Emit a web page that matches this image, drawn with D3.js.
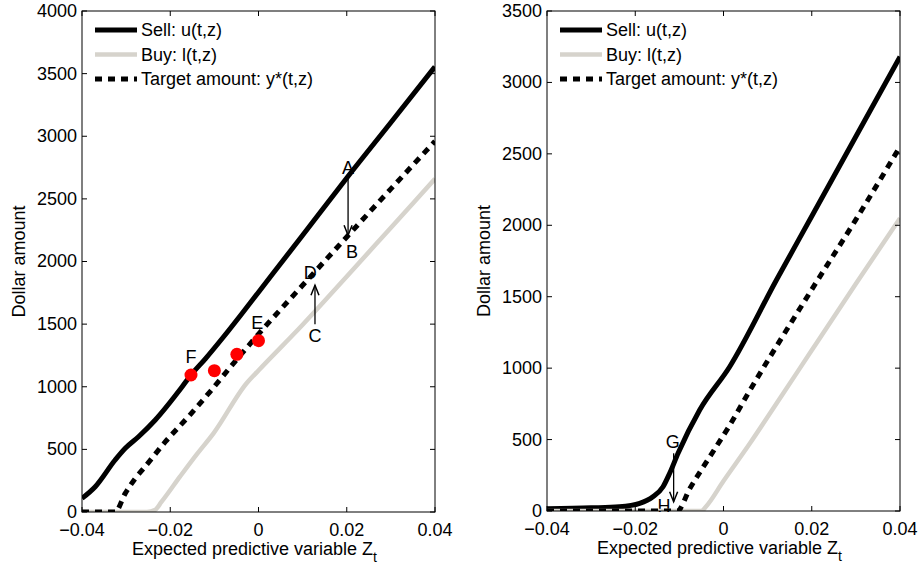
<!DOCTYPE html>
<html>
<head>
<meta charset="utf-8">
<script src="https://cdn.jsdelivr.net/npm/d3@7"></script>
<style>
  body { margin: 0; background: #fff; }
  svg text { font-family: "Liberation Sans", Arial, Helvetica, sans-serif; }
</style>
</head>
<body>
<div id="chart"></div>
<script>
// ---- data ----
const xTicks = [-0.04, -0.02, 0, 0.02, 0.04];
const xTickLabels = ["\u22120.04", "\u22120.02", "0", "0.02", "0.04"];
const leftYTicks = [0, 500, 1000, 1500, 2000, 2500, 3000, 3500, 4000];
const rightYTicks = [0, 500, 1000, 1500, 2000, 2500, 3000, 3500];

const leftSellZ = [-0.04, -0.037, -0.0325, -0.0302, -0.0272, -0.0234, -0.0173, -0.0153, -0.012, -0.008, -0.004, 0, 0.01, 0.02, 0.03, 0.04];
const leftSellY = [109, 202, 415, 509, 601, 735, 1000, 1094, 1225, 1395, 1573, 1755, 2210, 2667, 3110, 3555];
const leftBuyZ = [-0.04, -0.0253, -0.0235, -0.022, -0.0178, -0.014, -0.0102, -0.0027, 0, 0.01, 0.02, 0.03, 0.04];
const leftBuyY = [0, 0, 15, 80, 282, 460, 628, 1028, 1130, 1495, 1880, 2270, 2660];
const leftTargetZ = [-0.04, -0.0325, -0.0302, -0.0279, -0.0257, -0.0211, -0.0158, -0.011, -0.005, 0, 0.01, 0.02, 0.03, 0.04];
const leftTargetY = [0, 0, 149, 269, 362, 561, 765, 960, 1215, 1420, 1810, 2196, 2580, 2960];

const dotsZ = [-0.0153, -0.0100, -0.0049, 0.0];
const dotsY = [1094, 1128, 1259, 1368];

const rightSellZ = [-0.04, -0.03, -0.0236, -0.019, -0.016, -0.0137, -0.0122, -0.0103, -0.0054, 0.0014, 0.012, 0.02, 0.03, 0.04];
const rightSellY = [15, 22, 30, 54, 100, 170, 264, 404, 707, 1010, 1617, 2063, 2621, 3180];
const rightBuyZ = [-0.04, -0.005, -0.004, 0, 0.006, 0.0128, 0.02, 0.03, 0.04];
const rightBuyY = [0, 0, 30, 210, 474, 789, 1125, 1590, 2050];
const rightTargetZ = [-0.04, -0.0105, -0.0076, -0.0031, 0.0014, 0.0056, 0.02, 0.03, 0.04];
const rightTargetY = [0, 0, 159, 380, 600, 824, 1550, 2040, 2550];

const legendLabels = ["Sell: u(t,z)", "Buy: l(t,z)", "Target amount: y*(t,z)"];

// annotation letters: [text, z, value]
const leftLetters = [["A", 0.0203, 2754], ["B", 0.0212, 2076], ["C", 0.0128, 1413], ["D", 0.0117, 1916], ["E", -0.0003, 1509], ["F", -0.0153, 1238]];
const leftArrows = [[0.0203, 2667, 2210], [0.0128, 1500, 1810]]; // z, from, to
const rightLetters = [["G", -0.0115, 487], ["H", -0.0135, 35]];
const rightArrows = [[-0.0113, 404, 65]];

// ---- drawing ----
const W = 921, H = 567;
const svg = d3.select("#chart").append("svg")
  .attr("width", W)
  .attr("height", H);

const sellColor = "#000", buyColor = "#d6d3cc";
const fs = 18;

function panel(id, left, right, top, bottom, yMax, yTicks, series, letters, arrows, dots) {
  const x = d3.scaleLinear().domain([-0.04, 0.04]).range([left, right]);
  const y = d3.scaleLinear().domain([0, yMax]).range([bottom, top]);
  const g = svg.append("g");

  g.append("clipPath").attr("id", "clip" + id)
    .append("rect")
    .attr("x", left).attr("y", top)
    .attr("width", right - left).attr("height", bottom - top);

  // letters drawn under the lines
  g.selectAll("text.letter")
    .data(letters)
    .enter().append("text")
    .attr("class", "letter")
    .attr("x", d => x(d[1]))
    .attr("y", d => y(d[2]))
    .attr("dy", "0.36em")
    .attr("text-anchor", "middle")
    .style("font-size", fs + "px")
    .text(d => d[0]);

  const line = d3.line()
    .x(d => x(d[0]))
    .y(d => y(d[1]))
    .curve(d3.curveMonotoneX);
  const lines = g.append("g").attr("clip-path", "url(#clip" + id + ")");

  series.forEach(function(s) {
    lines.append("path")
      .datum(d3.zip(s.z, s.v))
      .attr("fill", "none")
      .attr("stroke", s.color)
      .attr("stroke-width", s.width)
      .attr("stroke-dasharray", s.dash || null)
      .attr("stroke-linejoin", "round")
      .attr("d", line);
  });

  if (dots) {
    g.selectAll("circle")
      .data(d3.zip(dots.z, dots.v))
      .enter().append("circle")
      .attr("cx", d => x(d[0]))
      .attr("cy", d => y(d[1]))
      .attr("r", 6.5)
      .attr("fill", "#ff0000");
  }

  // arrows
  arrows.forEach(function(a) {
    const ax = x(a[0]), y0 = y(a[1]), y1 = y(a[2]);
    const dir = y1 > y0 ? 1 : -1;
    g.append("line")
      .attr("x1", ax).attr("y1", y0)
      .attr("x2", ax).attr("y2", y1)
      .attr("stroke", "#000").attr("stroke-width", 1.3);
    g.append("path")
      .attr("d", "M" + (ax - 4) + "," + (y1 - dir * 10) + "L" + ax + "," + y1 + "L" + (ax + 4) + "," + (y1 - dir * 10))
      .attr("fill", "none")
      .attr("stroke", "#000").attr("stroke-width", 1.5);
  });

  // box and inward ticks
  g.append("rect")
    .attr("x", left).attr("y", top)
    .attr("width", right - left).attr("height", bottom - top)
    .attr("fill", "none").attr("stroke", "#000").attr("stroke-width", 1);

  const tk = 5;
  xTicks.forEach(function(t, i) {
    const tx = x(t);
    g.append("line").attr("x1", tx).attr("x2", tx).attr("y1", bottom).attr("y2", bottom - tk).attr("stroke", "#000");
    g.append("line").attr("x1", tx).attr("x2", tx).attr("y1", top).attr("y2", top + tk).attr("stroke", "#000");
    g.append("text")
      .attr("x", tx).attr("y", bottom + 24)
      .attr("text-anchor", "middle")
      .style("font-size", fs + "px")
      .text(xTickLabels[i]);
  });
  yTicks.forEach(function(t) {
    const ty = y(t);
    g.append("line").attr("x1", left).attr("x2", left + tk).attr("y1", ty).attr("y2", ty).attr("stroke", "#000");
    g.append("line").attr("x1", right).attr("x2", right - tk).attr("y1", ty).attr("y2", ty).attr("stroke", "#000");
    g.append("text")
      .attr("x", left - 5).attr("y", ty)
      .attr("dy", "0.33em")
      .attr("text-anchor", "end")
      .style("font-size", fs + "px")
      .text(t);
  });

  // axis labels
  const xl = g.append("text")
    .attr("x", (left + right) / 2 - 4).attr("y", bottom + 43)
    .attr("text-anchor", "middle")
    .style("font-size", fs + "px");
  xl.append("tspan").text("Expected predictive variable Z");
  xl.append("tspan").attr("dy", 7).style("font-size", "14px").text("t");

  g.append("text")
    .attr("transform", "translate(" + (left - 57) + "," + ((top + bottom) / 2) + ") rotate(-90)")
    .attr("text-anchor", "middle")
    .style("font-size", fs + "px")
    .text("Dollar amount");

  // legend
  const lg = g.append("g").attr("transform", "translate(" + (left + 13) + "," + (top + 19) + ")");
  series.forEach(function(s, i) {
    lg.append("line")
      .attr("x1", 0).attr("x2", 42)
      .attr("y1", i * 24.5).attr("y2", i * 24.5)
      .attr("stroke", s.color)
      .attr("stroke-width", s.width)
      .attr("stroke-dasharray", s.dash || null);
    lg.append("text")
      .attr("x", 46).attr("y", i * 24.5)
      .attr("dy", "0.36em")
      .style("font-size", fs + "px")
      .text(legendLabels[i]);
  });
}

panel("L", 82, 435, 11, 512, 4000, leftYTicks,
  [{z: leftSellZ, v: leftSellY, color: sellColor, width: 5},
   {z: leftBuyZ, v: leftBuyY, color: buyColor, width: 4.5},
   {z: leftTargetZ, v: leftTargetY, color: "#000", width: 5, dash: "7,6"}],
  leftLetters, leftArrows, {z: dotsZ, v: dotsY});

panel("R", 547, 900, 11, 511, 3500, rightYTicks,
  [{z: rightSellZ, v: rightSellY, color: sellColor, width: 5},
   {z: rightBuyZ, v: rightBuyY, color: buyColor, width: 4.5},
   {z: rightTargetZ, v: rightTargetY, color: "#000", width: 5, dash: "7,6"}],
  rightLetters, rightArrows, null);
</script>
</body>
</html>
